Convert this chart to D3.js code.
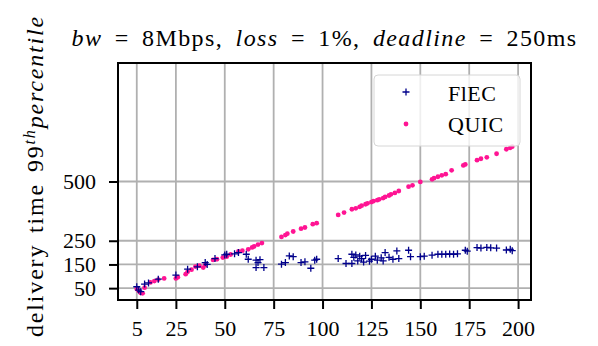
<!DOCTYPE html>
<html>
<head>
<meta charset="utf-8">
<script src="https://cdn.jsdelivr.net/npm/d3@7"></script>
<style>
  body { margin: 0; background: #fff; }
  svg { display: block; }
  text { font-family: "Liberation Serif", "DejaVu Serif", serif; }
</style>
</head>
<body>
<svg id="chart"></svg>
<script>
// set up constants
const width = 598;
const height = 346;
const margin = { top: 63, right: 67, bottom: 46, left: 118 };
const innerWidth = width - margin.left - margin.right;
const innerHeight = height - margin.top - margin.bottom;

// data
const xTicks = [5, 25, 50, 75, 100, 125, 150, 175, 200];
const yTicks = [50, 150, 250, 500];

const quicX = [5, 6, 7, 8, 9, 12, 14, 16, 19, 25, 26, 30, 31, 33, 35, 37, 39, 40, 44, 46, 49, 51, 53, 57, 59, 62, 64, 65, 67, 69,
  79, 81, 82, 85, 89, 91, 95, 97, 108, 111, 115, 117, 119, 120, 122, 123, 125, 126, 128, 129, 131, 132, 134, 135, 137, 139,
  144, 146, 150, 156, 157, 159, 161, 163, 166, 172, 173, 179, 181, 184, 189, 194, 196, 197];
const quicY = [46, 38, 30, 28, 52, 74, 80, 86, 91, 91, 96, 109, 119, 128, 141, 145, 137, 148, 169, 172, 179, 183, 192, 205, 208, 214, 222, 226, 234, 240,
  266, 274, 280, 289, 301, 306, 320, 324, 359, 369, 383, 387, 393, 398, 404, 408, 413, 417, 421, 425, 430, 435, 441, 446, 452, 460,
  478, 484, 498, 509, 514, 520, 526, 531, 547, 568, 572, 590, 596, 602, 617, 636, 642, 647];

const flecX = [5, 6, 7, 9, 11, 16, 25, 31, 36, 40, 41, 45, 50, 51, 55, 57, 61, 62, 66, 66, 67, 68, 70, 79, 81, 83, 85, 89, 91, 94, 96, 97,
  108, 112, 115, 115, 116, 117, 118, 119, 120, 121, 122, 124, 125, 127, 128, 130, 131, 132, 134, 136, 138, 139, 144, 145, 150, 152,
  156, 159, 161, 163, 165, 167, 169, 173, 174, 179, 181, 184, 186, 189, 194, 196, 197];
const flecY = [56, 42, 35, 67, 72, 88, 105, 130, 140, 158, 150, 175, 190, 193, 195, 200, 193, 172, 168, 137, 158, 170, 137, 151, 158, 186, 183, 158, 161, 134, 168, 172,
  175, 154, 154, 193, 180, 190, 165, 185, 175, 160, 188, 164, 172, 185, 168, 178, 165, 200, 180, 172, 207, 175, 210, 183, 183, 185,
  189, 193, 193, 193, 194, 193, 195, 210, 206, 221, 219, 222, 220, 219, 211, 214, 208];

const quic = quicX.map((x, i) => ({ x, y: quicY[i] }));
const flec = flecX.map((x, i) => ({ x, y: flecY[i] }));

const svg = d3.select('#chart')
  .attr('width', width)
  .attr('height', height);

// scales
const xScale = d3.scaleLinear()
  .domain([-4.6, 206.6])
  .range([0, innerWidth]);

const yScale = d3.scaleLinear()
  .domain([0, 1000])
  .range([innerHeight, 0]);

const g = svg.append('g')
  .attr('transform', `translate(${margin.left}, ${margin.top})`);

// grid
g.selectAll('.xgrid')
  .data(xTicks)
  .enter()
  .append('line')
  .attr('x1', d => xScale(d))
  .attr('x2', d => xScale(d))
  .attr('y1', 0)
  .attr('y2', innerHeight)
  .attr('stroke', '#b0b0b0')
  .attr('stroke-width', 1.8);

g.selectAll('.ygrid')
  .data(yTicks)
  .enter()
  .append('line')
  .attr('x1', 0)
  .attr('x2', innerWidth)
  .attr('y1', d => yScale(d))
  .attr('y2', d => yScale(d))
  .attr('stroke', '#b0b0b0')
  .attr('stroke-width', 1.8);

// axes
const xAxis = d3.axisBottom(xScale).tickValues(xTicks).tickSize(9).tickPadding(11).tickSizeOuter(0);
const yAxis = d3.axisLeft(yScale).tickValues(yTicks).tickSize(9).tickPadding(13).tickSizeOuter(0);

const gx = g.append('g')
  .attr('transform', `translate(0, ${innerHeight})`)
  .call(xAxis);
const gy = g.append('g')
  .call(yAxis);

[gx, gy].forEach(a => {
  a.select('.domain').remove();
  a.selectAll('.tick line').attr('stroke', '#000').attr('stroke-width', 2);
  a.selectAll('.tick text')
    .attr('fill', '#000')
    .style('font-family', '"Liberation Serif", serif')
    .style('font-size', '22px');
});

// points
g.selectAll('.quic')
  .data(quic)
  .enter()
  .append('circle')
  .attr('cx', d => xScale(d.x))
  .attr('cy', d => yScale(d.y))
  .attr('r', 2.4)
  .attr('fill', '#ff1493');

g.selectAll('.flec')
  .data(flec)
  .enter()
  .append('path')
  .attr('d', d => `M${xScale(d.x) - 3.5},${yScale(d.y)}h7M${xScale(d.x)},${yScale(d.y) - 3.5}v7`)
  .attr('stroke', '#00008b')
  .attr('stroke-width', 1.3)
  .attr('fill', 'none');

// frame
g.append('rect')
  .attr('x', 0)
  .attr('y', 0)
  .attr('width', innerWidth)
  .attr('height', innerHeight)
  .attr('fill', 'none')
  .attr('stroke', '#000')
  .attr('stroke-width', 2);

// legend
const legend = svg.append('g');
legend.append('rect')
  .attr('x', 374)
  .attr('y', 75)
  .attr('width', 146)
  .attr('height', 71)
  .attr('rx', 4)
  .attr('fill', '#fff')
  .attr('fill-opacity', 0.8)
  .attr('stroke', '#d6d6d6')
  .attr('stroke-width', 1);

legend.append('path')
  .attr('d', 'M402.5,92h7M406,88.5v7')
  .attr('stroke', '#00008b')
  .attr('stroke-width', 1.3);
legend.append('circle')
  .attr('cx', 406)
  .attr('cy', 124)
  .attr('r', 2.4)
  .attr('fill', '#ff1493');

legend.append('text')
  .attr('x', 448)
  .attr('y', 101)
  .style('font-size', '22px')
  .style('letter-spacing', '0.5px')
  .text('FlEC');
legend.append('text')
  .attr('x', 448)
  .attr('y', 132)
  .style('font-size', '22px')
  .style('letter-spacing', '0.5px')
  .text('QUIC');

// stretch a text to the width the reference's LaTeX font takes
function fitWidth(sel, target) {
  const len = sel.node().getComputedTextLength();
  const n = sel.text().length;
  if (len < target) sel.style('letter-spacing', ((target - len) / n) + 'px');
}

// title
const title = svg.append('text')
  .attr('x', margin.left + innerWidth / 2)
  .attr('y', 46)
  .attr('text-anchor', 'middle')
  .style('font-size', '24px')
  .style('word-spacing', '5px');
[['bw', true], [' = 8Mbps, ', false], ['loss', true], [' = 1%, ', false], ['deadline', true], [' = 250ms', false]]
  .forEach(([t, it]) => title.append('tspan').style('font-style', it ? 'italic' : 'normal').text(t));
fitWidth(title, 506);

// y label
const ylab = svg.append('text')
  .attr('transform', `translate(43, 176) rotate(-90)`)
  .attr('text-anchor', 'middle')
  .style('font-size', '24px')
  .style('word-spacing', '3px');
ylab.append('tspan').text('delivery time 99');
ylab.append('tspan').attr('baseline-shift', 'super').style('font-size', '16px').style('font-style', 'italic').text('th');
ylab.append('tspan').style('font-style', 'italic').text('percentile');
fitWidth(ylab, 322);
</script>
</body>
</html>
